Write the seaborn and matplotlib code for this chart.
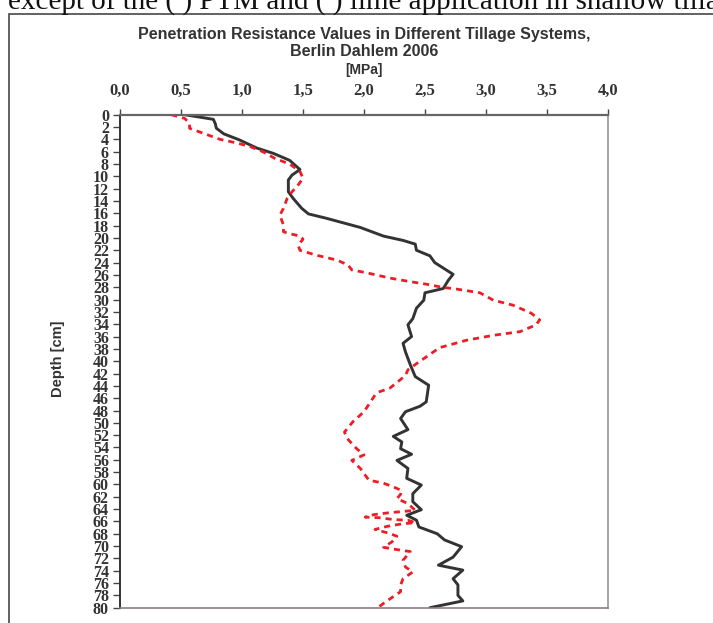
import numpy as np
import pandas as pd
import matplotlib
matplotlib.use("Agg")
import matplotlib.pyplot as plt
import seaborn as sns
from matplotlib.patches import Rectangle

# Penetration resistance profiles [MPa] vs depth [cm]
solid_depth = [0, 0.75, 1.4, 2.2, 3.1, 4.1, 5.4, 6.3, 7.4, 8.9, 9.8, 10.6, 12.5, 13.6,
               15.2, 16.1, 16.8, 18.3, 19.7, 20.4, 21.0, 22.0, 22.9, 24.0, 25.9, 26.9,
               28.2, 28.9, 30.1, 31.4, 33.1, 34.1, 36.0, 37.1, 38.5, 40.6, 42.5, 43.9,
               46.6, 47.3, 48.2, 49.3, 51.1, 52.2, 53.1, 54.2, 55.1, 56.1, 57.4, 59.0,
               60.1, 61.5, 62.8, 64.1, 65.0, 65.8, 66.9, 68.0, 69.0, 70.1, 71.8, 73.1,
               73.9, 75.3, 76.3, 78.0, 78.9, 80.0]
solid_mpa = [0.53, 0.765, 0.78, 0.79, 0.85, 0.98, 1.12, 1.26, 1.39, 1.475, 1.41, 1.38, 1.38, 1.42,
             1.49, 1.545, 1.69, 1.97, 2.16, 2.32, 2.42, 2.43, 2.54, 2.58, 2.73, 2.69,
             2.65, 2.50, 2.49, 2.43, 2.40, 2.36, 2.39, 2.32, 2.34, 2.38, 2.42, 2.53,
             2.51, 2.46, 2.34, 2.30, 2.36, 2.24, 2.31, 2.30, 2.39, 2.27, 2.36, 2.35,
             2.47, 2.40, 2.40, 2.47, 2.35, 2.43, 2.45, 2.60, 2.66, 2.80, 2.73, 2.61,
             2.81, 2.73, 2.77, 2.77, 2.81, 2.54]

dashed_depth = [0, 0.6, 1.4, 2.2, 3.0, 4.0, 4.6, 5.2, 6.0, 7.1, 8.0, 9.2, 10.3, 11.7, 12.5,
                13.6, 15.2, 16.3, 17.9, 19.0, 19.3, 19.7, 20.2, 21.2, 22.0, 22.8, 23.6,
                24.4, 25.2, 25.6, 26.5, 27.1, 27.5, 28.0, 28.3, 28.9, 30.1, 30.9, 32.2,
                33.3, 34.1, 35.2, 35.8, 36.6, 37.8, 39.3, 40.4, 41.4, 42.3, 43.3, 44.4,
                45.0, 45.5, 48.2, 49.8, 51.5, 52.5, 54.2, 55.2, 56.1, 57.4, 58.5, 59.3,
                59.8, 60.3, 61.0, 61.6, 62.3, 63.1, 64.2, 64.4, 64.6, 64.9, 65.3, 65.4,
                65.7, 65.8, 66.2, 66.4, 66.8, 67.3, 67.9, 68.4, 69.3, 70.2, 70.6, 70.9,
                72.3, 73.4, 74.2, 75.3, 76.3, 77.4, 78.2, 79.3, 79.9]
dashed_mpa = [0.42, 0.53, 0.57, 0.57, 0.68, 0.82, 0.96, 1.07, 1.17, 1.27, 1.39, 1.475, 1.50, 1.45, 1.41,
              1.37, 1.34, 1.31, 1.34, 1.34, 1.39, 1.475, 1.50, 1.46, 1.475, 1.61, 1.78,
              1.87, 1.90, 2.01, 2.21, 2.38, 2.51, 2.64, 2.76, 2.95, 3.06, 3.22, 3.37,
              3.44, 3.41, 3.28, 3.06, 2.84, 2.62, 2.51, 2.43, 2.36, 2.34, 2.28, 2.21,
              2.12, 2.09, 2.00, 1.91, 1.84, 1.86, 1.94, 2.00, 1.90, 1.97, 2.01, 2.04,
              2.16, 2.23, 2.31, 2.30, 2.27, 2.36, 2.42, 2.31, 2.20, 2.08, 2.01, 2.13,
              2.24, 2.36, 2.42, 2.31, 2.19, 2.09, 2.20, 2.27, 2.23, 2.16, 2.28, 2.38,
              2.32, 2.34, 2.40, 2.32, 2.30, 2.30, 2.24, 2.16, 2.12]

x_ticks = np.arange(0, 4.01, 0.5)
x_tick_labels = ["0,0", "0,5", "1,0", "1,5", "2,0", "2,5", "3,0", "3,5", "4,0"]
y_ticks = np.arange(0, 81, 2)

sns.set_style("white")
plt.rcParams["font.family"] = ["Liberation Sans", "DejaVu Sans"]

W, H = 713, 623
fig = plt.figure(figsize=(W / 100, H / 100), dpi=100)
ax = fig.add_axes([120 / W, 1 - 607.7 / H, 488 / W, 493 / H])

solid = pd.DataFrame({"depth": solid_depth, "mpa": solid_mpa})
dashed = pd.DataFrame({"depth": dashed_depth, "mpa": dashed_mpa})
sns.lineplot(data=solid, x="mpa", y="depth", sort=False, estimator=None,
             color="#333333", linewidth=2.1, ax=ax)
sns.lineplot(data=dashed, x="mpa", y="depth", sort=False, estimator=None,
             color="#ee1c25", linewidth=2.0, linestyle=(0, (2.2, 1.8)), ax=ax)

ax.set_xlim(0, 4)
ax.set_ylim(80, 0)
ax.xaxis.tick_top()
ax.set_xticks(x_ticks)
ax.set_xticklabels(x_tick_labels)
ax.set_yticks(y_ticks)
ax.set_yticklabels([str(v) for v in y_ticks])
ax.set_xlabel("")
ax.set_ylabel("")

for lab in ax.get_xticklabels() + ax.get_yticklabels():
    lab.set_family("Liberation Serif")
    lab.set_fontweight("bold")
    lab.set_color("#333333")
for lab in ax.get_xticklabels():
    lab.set_fontsize(12)
for lab in ax.get_yticklabels():
    lab.set_fontsize(11.5)

ax.tick_params(axis="x", top=True, bottom=False, direction="out", length=4.5,
               width=1, color="#444444", pad=7)
ax.tick_params(axis="y", left=True, direction="out", length=5, width=1,
               color="#444444", pad=3)

ax.spines["top"].set_color("#666666")
ax.spines["top"].set_linewidth(1.6)
ax.spines["left"].set_color("#333333")
ax.spines["left"].set_linewidth(1.4)
ax.spines["right"].set_color("#aaa2a2")
ax.spines["right"].set_linewidth(1.4)
ax.spines["bottom"].set_color("#8c7f7f")
ax.spines["bottom"].set_linewidth(1.2)

# titles and axis labels
fig.text(364 / W, 1 - 35 / H, "Penetration Resistance Values in Different Tillage Systems,",
         ha="center", va="center", fontsize=11.5, fontweight="bold", color="#333333")
fig.text(364 / W, 1 - 52 / H, "Berlin Dahlem 2006",
         ha="center", va="center", fontsize=11.5, fontweight="bold", color="#333333")
fig.text(364 / W, 1 - 70 / H, "[MPa]",
         ha="center", va="center", fontsize=10, fontweight="bold", color="#333333")
fig.text(58 / W, 1 - 359 / H, "Depth [cm]", rotation=90,
         ha="center", va="center", fontsize=10.5, fontweight="bold", color="#333333")

# cropped document text and figure frame
fig.text(8 / W, 1 - 9.5 / H, "except of the ( ) PTM and ( ) lime application in shallow tillage",
         ha="left", va="baseline", fontsize=21, family="Liberation Serif", color="#111111")
fig.patches.append(Rectangle((9 / W, -0.1), 1.0, (1 - 14 / H) + 0.1,
                             transform=fig.transFigure, fill=False,
                             edgecolor="#555555", linewidth=1.3))

fig.savefig("out.png", dpi=100)
